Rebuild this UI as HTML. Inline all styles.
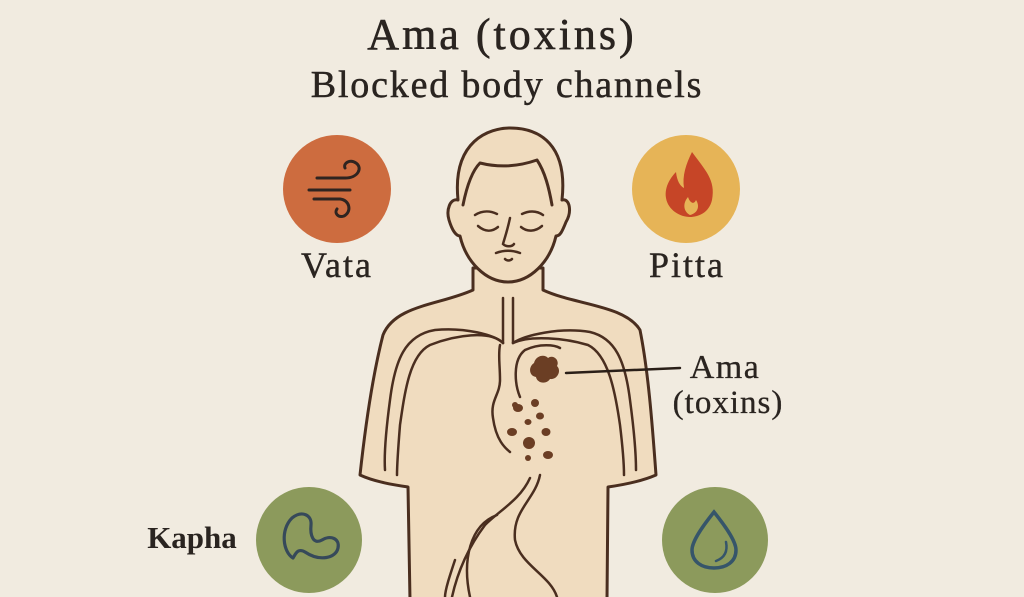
<!DOCTYPE html>
<html><head><meta charset="utf-8"><style>
html,body{margin:0;padding:0;background:#f1ebe0;}
svg{display:block}
</style></head><body>
<svg width="1024" height="597" viewBox="0 0 1024 597" xmlns="http://www.w3.org/2000/svg">
<rect width="1024" height="597" fill="#f1ebe0"/>
<g font-family="Liberation Serif, serif" fill="#2a2420" text-anchor="middle">
<text x="502" y="49" font-size="44" letter-spacing="3" stroke="#2a2420" stroke-width="0.6">Ama (toxins)</text>
<text x="507" y="97" font-size="38" letter-spacing="1.8" stroke="#2a2420" stroke-width="0.5">Blocked body channels</text>
<text x="337" y="277" font-size="36" letter-spacing="2" stroke="#2a2420" stroke-width="0.4">Vata</text>
<text x="687" y="277" font-size="36" letter-spacing="2" stroke="#2a2420" stroke-width="0.4">Pitta</text>
<text x="192" y="548" font-size="31" font-weight="bold">Kapha</text>
<text x="725" y="378" font-size="34" letter-spacing="1.5" stroke="#2a2420" stroke-width="0.3">Ama</text>
<text x="728" y="413" font-size="33" letter-spacing="1" stroke="#2a2420" stroke-width="0.3">(toxins)</text>
</g>
<!-- circles -->
<circle cx="337" cy="189" r="54" fill="#cd6c3f"/>
<circle cx="686" cy="189" r="54" fill="#e6b457"/>
<circle cx="309" cy="540" r="53" fill="#8c9a5c"/>
<circle cx="715" cy="540" r="53" fill="#8c9a5c"/>
<!-- wind -->
<g fill="none" stroke="#2e2420" stroke-width="3" stroke-linecap="round">
<path d="M317 178 H345 C358 178 363 168 356 163 C350 159 343 163 345 168"/>
<path d="M309 190 H350"/>
<path d="M314 199 H340 C350 200 352 212 344 216 C338 218 334 213 337 209"/>
</g>
<!-- flame -->
<path d="M692 152 C705 170 716 180 712 200 C709 213 698 217 690 217 C680 217 668 210 666 198 C664 186 672 176 676 172 C677 181 680 186 684 188 C682 176 686 164 692 152 Z" fill="#c64527"/>
<path d="M690 215 C684 212 682 204 688 197 C690 203 694 205 696 200 C700 206 698 213 690 215 Z" fill="#e6b457"/>
<!-- kapha squiggle -->
<path d="M293 558 C283 552 280 530 292 518 C302 510 312 515 311 525 C310 535 313 545 322 540 C330 535 340 538 338 548 C336 558 320 562 305 552 C298 548 296 553 293 558 Z" fill="none" stroke="#36495a" stroke-width="3.2" stroke-linejoin="round"/>
<!-- drop -->
<path d="M714 512 C706 522 692 540 692 550 C692 562 702 568 714 568 C726 568 736 562 736 550 C736 540 722 522 714 512 Z" fill="none" stroke="#36556a" stroke-width="3.5"/>
<path d="M726 542 C728 552 724 558 716 561" fill="none" stroke="#36556a" stroke-width="2.5" stroke-linecap="round"/>
<!-- body -->
<g stroke="#4a2e1f" stroke-width="3" fill="#f0dcbf" stroke-linejoin="round" stroke-linecap="round">
<path d="M473 268 L473 290 C440 305 395 305 383 335 C374 370 366 420 360 475 C375 482 395 485 408 487 L410 600 L607 600 L608 487 C622 485 640 482 656 475 C652 420 648 370 640 330 C625 305 575 305 543 290 L543 268 Z"/>
<path d="M458 200 C452 140 490 128 510 128 C540 128 568 145 562 200 C570 198 572 212 566 222 C562 232 560 236 556 236 C550 262 530 282 508 282 C486 282 466 262 460 236 C456 236 452 230 449 220 C446 210 450 198 458 200 Z"/>
<path d="M463 205 C467 185 473 170 480 163 C500 168 520 166 537 160 C545 172 549 188 552 205" fill="none"/>
</g>
<g fill="none" stroke="#4a2e1f" stroke-width="2.5" stroke-linecap="round">
<path d="M475 215 C483 210 491 211 497 214"/><path d="M522 214 C528 211 536 210 543 215"/>
<path d="M478 226 C485 232 492 232 498 227"/><path d="M521 227 C527 232 535 232 542 226"/>
<path d="M510 218 C507 232 504 240 503 244 C506 247 512 247 514 244"/>
<path d="M496 253 C504 250 512 250 520 253"/><path d="M505 259 C507 261 510 261 512 259"/>
<path d="M503 298 V343"/><path d="M513 298 V343"/>
<path d="M503 343 C495 335 465 327 435 330 C405 335 395 360 390 400 C386 430 384 455 385 470"/>
<path d="M503 343 C490 330 455 335 430 345 C410 355 405 390 400 425 C398 450 397 465 397 475"/>
<path d="M500 345 C498 355 500 365 500 380 C500 395 490 400 493 418 C496 440 505 448 510 452"/>
<path d="M513 343 C525 335 560 327 590 332 C615 338 625 360 630 400 C634 430 636 455 636 470"/>
<path d="M513 343 C530 335 565 338 588 345 C608 355 615 390 620 425 C623 450 624 465 624 475"/>
<path d="M520 397 C515 385 512 360 525 350 C540 343 555 345 560 348"/>
<path d="M530 478 C520 500 500 510 485 525 C470 545 458 570 452 597"/>
<path d="M540 475 C535 500 512 510 515 540 C520 565 550 575 557 597"/>
<path d="M497 515 C470 525 462 560 470 597"/>
<path d="M455 560 C450 575 445 590 445 597"/>
<path d="M566 373 L680 368" stroke="#2a1f18" stroke-width="2.5"/>
</g>
<g fill="#6b3e24">
<path d="M534 363 C536 355 545 354 548 358 C553 354 560 360 557 366 C562 371 557 380 550 379 C546 385 537 383 536 377 C529 376 528 367 534 363 Z"/>
<ellipse cx="518" cy="408" rx="5" ry="4"/><ellipse cx="535" cy="403" rx="4" ry="4"/>
<ellipse cx="540" cy="416" rx="4" ry="3.5"/><ellipse cx="528" cy="422" rx="3.5" ry="3"/>
<ellipse cx="512" cy="432" rx="5" ry="4"/><ellipse cx="546" cy="432" rx="4.5" ry="4"/>
<ellipse cx="529" cy="443" rx="6" ry="6"/><ellipse cx="548" cy="455" rx="5" ry="4"/>
<ellipse cx="528" cy="458" rx="3" ry="3"/><ellipse cx="515" cy="405" rx="3" ry="3"/>
</g>
</svg>
</body></html>
